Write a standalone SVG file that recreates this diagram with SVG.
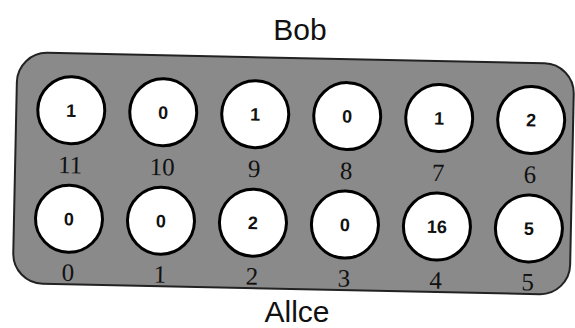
<svg xmlns="http://www.w3.org/2000/svg" width="575" height="328" viewBox="0 0 575 328">
<style>
.title{font-family:"Liberation Sans",Arial,sans-serif;font-size:30px;fill:#111;text-anchor:middle}
.pit{fill:#fff;stroke:#000;stroke-width:3}
.cnt{font-family:"Liberation Sans",Arial,sans-serif;font-size:18px;font-weight:bold;fill:#111;text-anchor:middle}
.idx{font-family:"Liberation Serif","Times New Roman",serif;font-size:25px;fill:#111;text-anchor:middle}
</style>
<rect width="575" height="328" fill="#fff"/>
<text class="title" x="300" y="40">Bob</text>
<text class="title" x="297" y="322">Allce</text>
<g id="board" transform="rotate(1.2 293 173.5)">
<rect x="15" y="58" width="557" height="231" rx="30" fill="#8a8a8a" stroke="#222" stroke-width="2"/>
<g id="pit11"><circle class="pit" cx="70" cy="115" r="33.5"/><text class="cnt" x="70" y="121.5">1</text><text class="idx" x="70" y="178">11</text></g>
<g id="pit10"><circle class="pit" cx="162" cy="115" r="33.5"/><text class="cnt" x="162" y="121.5">0</text><text class="idx" x="162" y="178">10</text></g>
<g id="pit9"><circle class="pit" cx="254" cy="115" r="33.5"/><text class="cnt" x="254" y="121.5">1</text><text class="idx" x="254" y="178">9</text></g>
<g id="pit8"><circle class="pit" cx="346" cy="115" r="33.5"/><text class="cnt" x="346" y="121.5">0</text><text class="idx" x="346" y="178">8</text></g>
<g id="pit7"><circle class="pit" cx="438" cy="115" r="33.5"/><text class="cnt" x="438" y="121.5">1</text><text class="idx" x="438" y="178">7</text></g>
<g id="pit6"><circle class="pit" cx="530" cy="115" r="33.5"/><text class="cnt" x="530" y="121.5">2</text><text class="idx" x="530" y="178">6</text></g>
<g id="pit0"><circle class="pit" cx="70" cy="223.5" r="33.5"/><text class="cnt" x="70" y="230">0</text><text class="idx" x="70" y="285.5">0</text></g>
<g id="pit1"><circle class="pit" cx="162" cy="223.5" r="33.5"/><text class="cnt" x="162" y="230">0</text><text class="idx" x="162" y="285.5">1</text></g>
<g id="pit2"><circle class="pit" cx="254" cy="223.5" r="33.5"/><text class="cnt" x="254" y="230">2</text><text class="idx" x="254" y="285.5">2</text></g>
<g id="pit3"><circle class="pit" cx="346" cy="223.5" r="33.5"/><text class="cnt" x="346" y="230">0</text><text class="idx" x="346" y="285.5">3</text></g>
<g id="pit4"><circle class="pit" cx="438" cy="223.5" r="33.5"/><text class="cnt" x="438" y="230">16</text><text class="idx" x="438" y="285.5">4</text></g>
<g id="pit5"><circle class="pit" cx="530" cy="223.5" r="33.5"/><text class="cnt" x="530" y="230">5</text><text class="idx" x="530" y="285.5">5</text></g>
</g>
</svg>
